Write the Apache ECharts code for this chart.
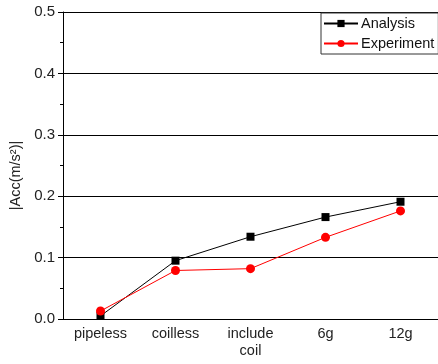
<!DOCTYPE html>
<html><head><meta charset="utf-8">
<script src="https://cdn.jsdelivr.net/npm/echarts@6/dist/echarts.min.js"></script>
<style>html,body{margin:0;padding:0;background:#fff}#c{width:438px;height:364px}</style>
</head><body><div id="c"></div>
<script>
const categories = ['pipeless', 'coilless', 'include\ncoil', '6g', '12g'];
const analysis = [0.005, 0.095, 0.134, 0.166, 0.191];
const experiment = [0.013, 0.079, 0.082, 0.133, 0.176];
const yTicks = [0, 0.1, 0.2, 0.3, 0.4, 0.5];

const font = 'Liberation Sans, Arial, sans-serif';
const chart = echarts.init(document.getElementById('c'));
chart.setOption({
  animation: false,
  backgroundColor: '#fff',
  grid: {left: 63, right: 0, top: 12, bottom: 45},
  legend: {
    orient: 'vertical', left: 321, top: 13,
    borderColor: '#333', borderWidth: 1, borderRadius: 0,
    padding: [3, 4, 3, 2], itemGap: 5, itemWidth: 34, itemHeight: 9,
    textStyle: {fontFamily: font, fontSize: 14.5, color: '#111', padding: [0, 0, 0, -2]},
    data: ['Analysis', 'Experiment']
  },
  xAxis: [{
    type: 'category', data: categories, boundaryGap: true,
    axisLine: {lineStyle: {color: '#000', width: 1}},
    axisTick: {alignWithLabel: true, length: 5, lineStyle: {color: '#000'}},
    axisLabel: {fontFamily: font, fontSize: 14.5, color: '#222', margin: 6, lineHeight: 17}
  }, {
    type: 'category', data: categories, boundaryGap: true, position: 'bottom',
    axisLine: {show: false},
    axisTick: {length: 3, lineStyle: {color: '#000'}},
    axisLabel: {show: false}
  }],
  yAxis: {
    type: 'value', min: yTicks[0], max: yTicks[yTicks.length - 1], interval: 0.1,
    name: '|Acc(m/s²)|', nameLocation: 'middle', nameGap: 37,
    nameTextStyle: {fontFamily: font, fontSize: 14.5, color: '#222', padding: [0, 20, 0, 0]},
    axisLine: {show: true, lineStyle: {color: '#000', width: 1}},
    axisTick: {show: true, length: 5, lineStyle: {color: '#000'}},
    minorTick: {show: true, splitNumber: 2, length: 3, lineStyle: {color: '#000'}},
    axisLabel: {fontFamily: font, fontSize: 15, color: '#222', margin: 8,
      formatter: v => v.toFixed(1)},
    splitLine: {show: true, lineStyle: {color: '#000', width: 1}}
  },
  series: [{
    name: 'Analysis', type: 'line', data: analysis,
    symbol: 'rect', symbolSize: 8,
    lineStyle: {color: '#000', width: 1}, itemStyle: {color: '#000'}
  }, {
    name: 'Experiment', type: 'line', data: experiment,
    symbol: 'circle', symbolSize: 9,
    lineStyle: {color: '#f00', width: 1}, itemStyle: {color: '#f00'}
  }]
});
</script></body></html>
